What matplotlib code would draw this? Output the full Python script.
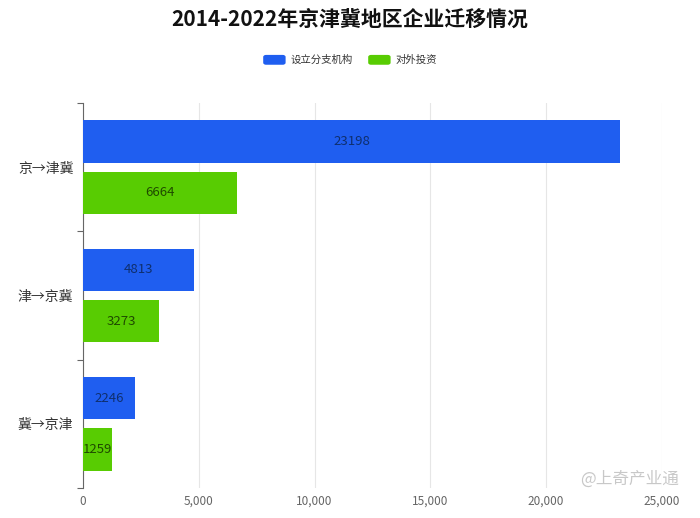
import numpy as np
import matplotlib.pyplot as plt
from matplotlib.patches import FancyBboxPatch

plt.rcParams['font.family'] = ['Noto Sans CJK SC', 'DejaVu Sans']

categories = ['京→津冀', '津→京冀', '冀→京津']
branch = [23198, 4813, 2246]      # 设立分支机构
invest = [6664, 3273, 1259]       # 对外投资
series_names = ['设立分支机构', '对外投资']
blue = '#1f5ef0'
green = '#58cc02'

fig = plt.figure(figsize=(7, 5.18), dpi=100)
ax = fig.add_axes([0.1186, 0.0579, 0.827, 0.7433])

y = np.arange(len(categories))
h = 0.33
ax.barh(y - 0.2, branch, height=h, color=blue, zorder=3)
ax.barh(y + 0.2, invest, height=h, color=green, zorder=3)

# value labels in the middle of each bar
for yi, v in zip(y, branch):
    ax.text(v / 2, yi - 0.2, str(v), ha='center', va='center', fontsize=9.5, color='#0f2f6e', zorder=4)
for yi, v in zip(y, invest):
    ax.text(v / 2, yi + 0.2, str(v), ha='center', va='center', fontsize=9.5, color='#1f4a00', zorder=4)

ax.set_xlim(0, 25000)
ax.set_ylim(len(categories) - 0.5, -0.5)
ax.set_xticks([0, 5000, 10000, 15000, 20000, 25000])
ax.set_xticklabels(['0', '5,000', '10,000', '15,000', '20,000', '25,000'])
ax.tick_params(axis='x', length=0, labelsize=8.5, labelcolor='#666666', pad=5)
ax.set_yticks(y)
ax.set_yticklabels(categories)
ax.tick_params(axis='y', which='major', length=0, labelsize=10, labelcolor='#333333', pad=7)
ax.set_yticks(np.arange(len(categories) + 1) - 0.5, minor=True)
ax.tick_params(axis='y', which='minor', length=4, color='#666666', width=0.8)

ax.grid(axis='x', color='#e6e6e6', linewidth=0.8, zorder=0)
for s in ['top', 'right', 'bottom']:
    ax.spines[s].set_visible(False)
ax.spines['left'].set_color('#666666')
ax.spines['left'].set_linewidth(0.8)

fig.text(0.5, 0.962, '2014-2022年京津冀地区企业迁移情况', ha='center', va='center',
         fontsize=15, fontweight='bold', color='#111111')

# legend with rounded swatches
for x0, col, name in [(0.376, blue, series_names[0]), (0.526, green, series_names[1])]:
    fig.patches.append(FancyBboxPatch((x0, 0.875), 0.032, 0.019, boxstyle='round,pad=0,rounding_size=0.004',
                                      transform=fig.transFigure, facecolor=col, edgecolor='none'))
    fig.text(x0 + 0.039, 0.884, name, ha='left', va='center', fontsize=7.5, color='#333333')

# watermark
fig.text(0.9, 0.075, '@上奇产业通', ha='center', va='center', fontsize=12, color='#bbbbbb', alpha=0.8)

fig.savefig('out.png', dpi=100)
